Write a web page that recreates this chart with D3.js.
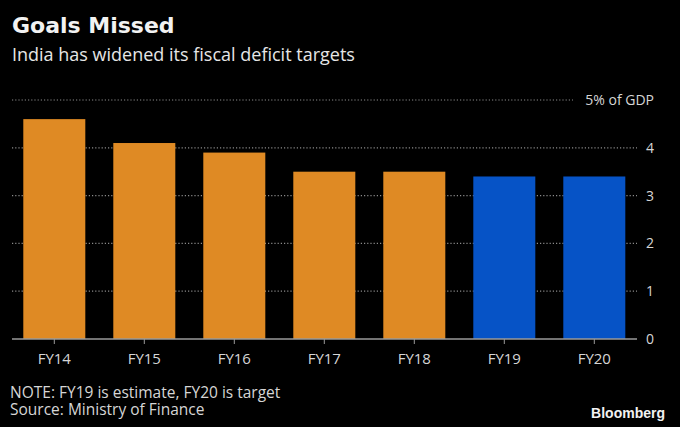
<!DOCTYPE html>
<html><head><meta charset="utf-8">
<script src="https://cdn.jsdelivr.net/npm/d3@7"></script>
<style>html,body{margin:0;padding:0;background:#000;}</style>
</head><body>
<svg id="chart" width="680" height="427"></svg>
<script>
const categories = ["FY14","FY15","FY16","FY17","FY18","FY19","FY20"];
const values = [4.6, 4.1, 3.9, 3.5, 3.5, 3.4, 3.4];
const seriesType = ["actual","actual","actual","actual","actual","estimate","estimate"];
const yTicks = [0,1,2,3,4,5];
const yTickLabels = ["0","1","2","3","4","5% of GDP"];

const svg = d3.select("#chart");
svg.append("rect").attr("width",680).attr("height",427).attr("fill","#000");
const font = "'Open Sans', sans-serif";

const x = d3.scaleBand().domain(categories).range([9.3, 639.3]).paddingInner(0.311).paddingOuter(0.1555);
const y = d3.scaleLinear().domain([0,5]).range([339, 100]);
const color = d3.scaleOrdinal().domain(["actual","estimate"]).range(["#DF8A24","#0653C6"]);

// gridlines
const grid = svg.append("g");
yTicks.filter(t => t > 0).forEach(t => {
  grid.append("line")
    .attr("x1", 12).attr("x2", t === 5 ? 573 : 637)
    .attr("y1", y(t)).attr("y2", y(t))
    .attr("stroke", "#8a8a8a").attr("stroke-width", 1.2)
    .attr("stroke-dasharray", "1.2,2");
});

// bars
svg.append("g").selectAll("rect").data(categories).join("rect")
  .attr("x", d => x(d)).attr("width", x.bandwidth())
  .attr("y", (d,i) => y(values[i])).attr("height", (d,i) => y(0) - y(values[i]))
  .attr("fill", (d,i) => color(seriesType[i]));

// x axis
const xAxis = d3.axisBottom(x).tickSize(5).tickPadding(9);
const gx = svg.append("g").attr("transform", `translate(0,${y(0)})`).call(xAxis);
gx.select(".domain").remove();
gx.append("line").attr("x1", 12).attr("x2", 637).attr("y1", 0).attr("y2", 0)
  .attr("stroke", "#9a9a9a").attr("stroke-width", 1.6);
gx.selectAll(".tick line").attr("stroke", "#9a9a9a").attr("stroke-width", 1);
gx.selectAll(".tick text").attr("fill", "#d6d6d6").attr("font-size", 15).attr("font-family", font);

// y axis (right labels)
const yAxis = d3.axisRight(y).tickValues(yTicks).tickFormat((d,i) => yTickLabels[i]).tickSize(0).tickPadding(0);
const gy = svg.append("g").attr("transform", `translate(654,0)`).call(yAxis);
gy.select(".domain").remove();
gy.selectAll(".tick text").attr("fill", "#d6d6d6").attr("font-size", 14).attr("font-family", font)
  .attr("text-anchor", "end").attr("x", 0);

// titles
svg.append("text").attr("x", 12).attr("y", 33).text("Goals Missed")
  .attr("fill", "#f2f2f2").attr("font-size", 22).attr("font-weight", "bold").attr("font-family", "'DejaVu Sans', sans-serif");
svg.append("text").attr("x", 12).attr("y", 61).text("India has widened its fiscal deficit targets")
  .attr("fill", "#e6e6e6").attr("font-size", 18).attr("font-family", font);

// footer
svg.append("text").attr("x", 10).attr("y", 398).text("NOTE: FY19 is estimate, FY20 is target")
  .attr("fill", "#d6d6d6").attr("font-size", 15.5).attr("font-family", font);
svg.append("text").attr("x", 10).attr("y", 415).text("Source: Ministry of Finance")
  .attr("fill", "#d6d6d6").attr("font-size", 15.5).attr("font-family", font);
svg.append("text").attr("x", 665).attr("y", 418).attr("text-anchor", "end").text("Bloomberg")
  .attr("fill", "#f2f2f2").attr("font-size", 14).attr("font-weight", "bold").attr("font-family", "'Liberation Sans', Arial, sans-serif");
</script>
</body></html>
